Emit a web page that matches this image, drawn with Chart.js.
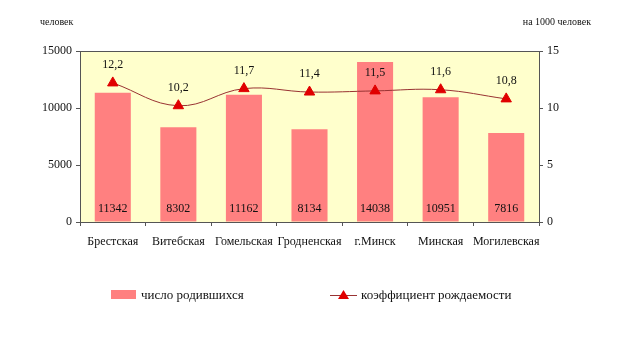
<!DOCTYPE html>
<html>
<head>
<meta charset="utf-8">
<script src="https://cdn.jsdelivr.net/npm/chart.js@4"></script>
<style>
  html, body { margin: 0; padding: 0; background: #fff; }
  #wrap { width: 620px; height: 352px; }
</style>
</head>
<body>
<div id="wrap"><canvas id="c" width="620" height="352"></canvas></div>
<script>
const regions = ['Брестская', 'Витебская', 'Гомельская', 'Гродненская', 'г.Минск', 'Минская', 'Могилевская'];
const births = [11342, 8302, 11162, 8134, 14038, 10951, 7816];
const birthRate = [12.2, 10.2, 11.7, 11.4, 11.5, 11.6, 10.8];
const leftTicks = [0, 5000, 10000, 15000];
const rightTicks = [0, 5, 10, 15];

const serif = '"Liberation Serif", "Times New Roman", serif';
const gray = '#555555';

// background, frame, value labels, axis captions and legend
const decor = {
  id: 'decor',
  beforeDraw(chart) {
    const { ctx, chartArea: a } = chart;
    ctx.save();
    ctx.fillStyle = '#FFFFCC';
    ctx.fillRect(a.left, a.top, a.right - a.left, a.bottom - a.top);
    ctx.restore();
  },
  afterDatasetsDraw(chart) {
    const { ctx, chartArea: a } = chart;
    ctx.save();
    ctx.strokeStyle = gray;
    ctx.lineWidth = 1;
    ctx.strokeRect(a.left + 0.5, a.top + 0.5, a.right - a.left, a.bottom - a.top);

    ctx.fillStyle = '#111';
    ctx.font = '12px ' + serif;
    ctx.textAlign = 'center';
    ctx.textBaseline = 'middle';
    // dataset 0 = line, dataset 1 = bars
    chart.getDatasetMeta(1).data.forEach((bar, i) => {
      ctx.fillText(String(births[i]), bar.x, a.bottom - 13);
    });
    chart.getDatasetMeta(0).data.forEach((pt, i) => {
      ctx.fillText(birthRate[i].toFixed(1).replace('.', ','), pt.x, pt.y - 18);
    });

    ctx.font = '10px ' + serif;
    ctx.textAlign = 'left';
    ctx.fillText('человек', 40, 22);
    ctx.textAlign = 'right';
    ctx.fillText('на 1000 человек', 591, 22);

    // legend
    ctx.font = '13px ' + serif;
    ctx.textAlign = 'left';
    ctx.fillStyle = '#FF8080';
    ctx.fillRect(111, 290, 25, 9);
    ctx.fillStyle = '#111';
    ctx.fillText('число родившихся', 141, 296);

    ctx.strokeStyle = '#993333';
    ctx.beginPath();
    ctx.moveTo(330, 295.5);
    ctx.lineTo(357, 295.5);
    ctx.stroke();
    ctx.fillStyle = '#E00000';
    ctx.beginPath();
    ctx.moveTo(343.5, 290);
    ctx.lineTo(349, 299);
    ctx.lineTo(338, 299);
    ctx.closePath();
    ctx.fill();
    ctx.fillStyle = '#111';
    ctx.fillText('коэффициент рождаемости', 361, 296);
    ctx.restore();
  }
};

new Chart(document.getElementById('c'), {
  data: {
    labels: regions,
    datasets: [
      {
        type: 'line',
        label: 'коэффициент рождаемости',
        data: birthRate,
        yAxisID: 'y1',
        borderColor: '#993333',
        borderWidth: 1,
        tension: 0.4,
        pointStyle: 'triangle',
        pointRadius: 6,
        pointBackgroundColor: '#E00000',
        pointBorderColor: '#E00000',
        order: 0
      },
      {
        type: 'bar',
        label: 'число родившихся',
        data: births,
        yAxisID: 'y',
        backgroundColor: '#FF8080',
        barPercentage: 0.55,
        categoryPercentage: 1,
        order: 1
      }
    ]
  },
  options: {
    responsive: false,
    animation: false,
    layout: { padding: { top: 51, left: 0, right: 0, bottom: 0 } },
    plugins: { legend: { display: false }, tooltip: { enabled: false } },
    scales: {
      x: {
        offset: true,
        grid: { offset: true, drawOnChartArea: false, color: gray, tickLength: 4 },
        border: { color: gray },
        ticks: { color: '#111', font: { family: serif, size: 12 }, padding: 9, maxRotation: 0, autoSkip: false },
        afterFit: s => { s.height = 130; }
      },
      y: {
        position: 'left',
        min: 0, max: 15000,
        afterBuildTicks: s => { s.ticks = leftTicks.map(v => ({ value: v })); },
        grid: { drawOnChartArea: false, color: gray, tickLength: 4 },
        border: { color: gray },
        ticks: { color: '#111', font: { family: serif, size: 12 }, padding: 4, callback: v => String(v) },
        afterFit: s => { s.width = 80; }
      },
      y1: {
        position: 'right',
        min: 0, max: 15,
        afterBuildTicks: s => { s.ticks = rightTicks.map(v => ({ value: v })); },
        grid: { drawOnChartArea: false, color: gray, tickLength: 4 },
        border: { color: gray },
        ticks: { color: '#111', font: { family: serif, size: 12 }, padding: 4, callback: v => String(v) },
        afterFit: s => { s.width = 81; }
      }
    }
  },
  plugins: [decor]
});
</script>
</body>
</html>
